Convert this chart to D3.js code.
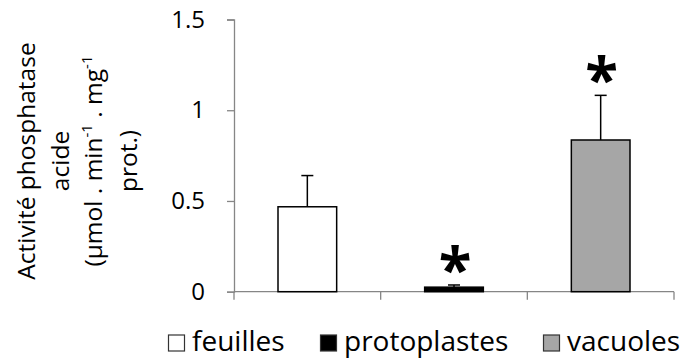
<!DOCTYPE html>
<html>
<head>
<meta charset="utf-8">
<script src="https://cdn.jsdelivr.net/npm/d3@7"></script>
<style>
  body { margin: 0; background: #fff; }
  svg text { font-family: "Open Sans", "Liberation Sans", sans-serif; fill: #000; }
</style>
</head>
<body>
<svg id="chart" width="682" height="360"></svg>
<script>
const categories = ["feuilles", "protoplastes", "vacuoles"];
const values = [0.468, 0.025, 0.836];
const errors = [0.172, 0.012, 0.246];
const significant = [false, true, true];
const colors = ["#ffffff", "#000000", "#a6a6a6"];
const yTicks = [0, 0.5, 1, 1.5];

const svg = d3.select("#chart");
const plotLeft = 234, plotRight = 674, plotTop = 19.5, plotBottom = 291.7;

const x = d3.scaleBand().domain(categories).range([plotLeft, plotRight]).paddingInner(0.6).paddingOuter(0.3);
const xCat = d3.scaleBand().domain(categories).range([plotLeft, plotRight]);
const y = d3.scaleLinear().domain([0, 1.5]).range([plotBottom, plotTop]);

const axisColor = "#868686";

// y axis
const yAxis = svg.append("g").attr("transform", `translate(${plotLeft},0)`)
  .call(d3.axisLeft(y).tickValues(yTicks).tickSize(7).tickPadding(22)
    .tickFormat(d => String(d)));
yAxis.select(".domain").attr("stroke", axisColor).attr("stroke-width", 1.3);
yAxis.selectAll(".tick line").attr("stroke", axisColor).attr("stroke-width", 1.3);
yAxis.selectAll(".tick text").attr("font-size", 24).attr("font-family", "Open Sans, sans-serif");

// x axis line with category boundaries
svg.append("line").attr("x1", plotLeft).attr("x2", plotRight).attr("y1", plotBottom).attr("y2", plotBottom)
  .attr("stroke", axisColor).attr("stroke-width", 1.3);
const bounds = categories.map(c => xCat(c)).concat([plotRight]);
svg.selectAll(".xtick").data(bounds).enter().append("line")
  .attr("x1", d => d).attr("x2", d => d).attr("y1", plotBottom).attr("y2", plotBottom + 8)
  .attr("stroke", axisColor).attr("stroke-width", 1.3);

// error bars (upper only)
categories.forEach((c, i) => {
  const cx = x(c) + x.bandwidth() / 2;
  const yTop = y(values[i] + errors[i]);
  svg.append("line").attr("x1", cx).attr("x2", cx).attr("y1", y(values[i])).attr("y2", yTop)
    .attr("stroke", "#000").attr("stroke-width", 1.5);
  svg.append("line").attr("x1", cx - 6).attr("x2", cx + 6).attr("y1", yTop).attr("y2", yTop)
    .attr("stroke", "#000").attr("stroke-width", 1.5);
});

// bars
svg.selectAll(".bar").data(categories).enter().append("rect")
  .attr("x", d => x(d)).attr("width", x.bandwidth())
  .attr("y", (d, i) => y(values[i])).attr("height", (d, i) => y(0) - y(values[i]))
  .attr("fill", (d, i) => colors[i]).attr("stroke", "#000").attr("stroke-width", 1.5);

// significance marks above the error bars
categories.forEach((c, i) => {
  if (!significant[i]) return;
  const cx = x(c) + x.bandwidth() / 2;
  svg.append("text").attr("x", cx + 1).attr("y", y(values[i] + errors[i]) + 6)
    .attr("text-anchor", "middle").attr("font-size", 60).attr("font-weight", "bold")
    .attr("font-family", "Liberation Sans, sans-serif")
    .text("*");
});

// y-axis title
const yTitle = svg.append("text")
  .attr("transform", "translate(0,161) rotate(-90)")
  .attr("text-anchor", "middle").attr("font-size", 24.5);
yTitle.append("tspan").attr("x", 0).attr("y", 35).text("Activité phosphatase");
yTitle.append("tspan").attr("x", 0).attr("y", 68.5).text("acide");
const l3 = yTitle.append("tspan").attr("x", 0).attr("y", 102);
l3.append("tspan").text("(µmol . min");
l3.append("tspan").attr("font-size", 15).attr("dy", -10).text("-1");
l3.append("tspan").attr("dy", 10).text(" . mg");
l3.append("tspan").attr("font-size", 15).attr("dy", -10).text("-1");
yTitle.append("tspan").attr("x", 0).attr("y", 136.5).text("prot.)");

// legend
const legendX = [168, 320, 543];
const legend = svg.selectAll(".leg").data(categories).enter().append("g")
  .attr("transform", (d, i) => `translate(${legendX[i]},351)`);
legend.append("rect").attr("x", 0.5).attr("y", -16).attr("width", 16).attr("height", 16)
  .attr("fill", (d, i) => colors[i]).attr("stroke", "#333").attr("stroke-width", 1.2);
legend.append("text").attr("x", 24).attr("y", 0).attr("font-size", 28).text(d => d);
</script>
</body>
</html>
